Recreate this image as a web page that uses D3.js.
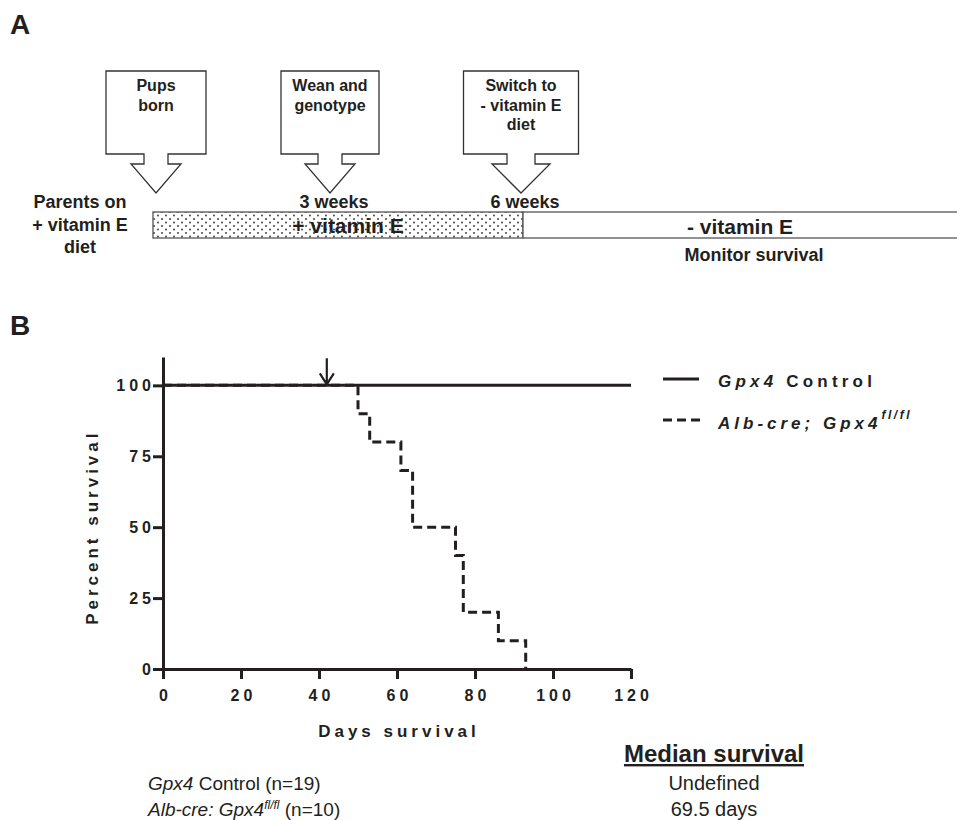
<!DOCTYPE html>
<html>
<head>
  <script src="https://d3js.org/d3.v7.min.js"></script>
  <style>
    body {
  margin: 0;
  background-color: #ffffff;
}

svg {
  font-family: 'Liberation Sans', Arial, sans-serif;
  display: block;
}

.bold { font-weight: bold; }
.ital { font-style: italic; }

.axis path,
.axis line {
  stroke: #231f20;
  stroke-width: 3px;
}

.axis text {
  font-size: 16px;
  font-weight: bold;
  letter-spacing: 4px;
  fill: #231f20;
}
  </style>
</head>
<body>

<script>
// Panel A: timeline of the experiment (weeks after birth).
const eventWeeks = [0, 3, 6];
const eventLines = [["Pups", "born"], ["Wean and", "genotype"], ["Switch to", "- vitamin E", "diet"]];
const weekLabels = ["", "3 weeks", "6 weeks"];
const parentLines = ["Parents on", "+ vitamin E", "diet"];

// Panel B: Kaplan-Meier curves.
const controlDays = [0, 120];
const controlSurvival = [100, 100];
const koDays = [0, 50, 53, 61, 64, 75, 77, 86, 93];
const koSurvival = [100, 90, 80, 70, 50, 40, 20, 10, 0];
const dietSwitchDay = 42;
const xTicks = [0, 20, 40, 60, 80, 100, 120];
const yTicks = [0, 25, 50, 75, 100];

// Median table under the chart.
const groupNames = ["Control", "Alb-cre: Gpx4"];
const groupN = [19, 10];
const medianText = ["Undefined", "69.5 days"];

const width = 957;
const height = 820;
const ink = "#231f20";

const svg = d3.select("body")
  .append("svg")
  .attr("width", width)
  .attr("height", height);

// dotted fill for the + vitamin E period
const defs = svg.append("defs");
const pat = defs.append("pattern")
  .attr("id", "dots")
  .attr("patternUnits", "userSpaceOnUse")
  .attr("width", 8)
  .attr("height", 7);
pat.append("rect").attr("width", 8).attr("height", 7).attr("fill", "#fff");
pat.append("circle").attr("cx", 2).attr("cy", 2).attr("r", 0.9).attr("fill", "#333");
pat.append("circle").attr("cx", 6).attr("cy", 5.5).attr("r", 0.9).attr("fill", "#333");

// ---------- Panel A ----------
svg.append("text").attr("class", "bold")
  .attr("x", 10).attr("y", 34)
  .attr("font-size", 28).attr("fill", ink)
  .text("A");

// weeks -> x (schematic, not to scale)
const wk = d3.scaleLinear().domain([0, 3, 6]).range([156, 330, 521]);

const boxW = [100, 98, 115];
const stemW = [12, 12, 14];
const wingW = [25, 25, 29];
const boxTop = 71, boxBottom = 154, stemBottom = 164, tipY = 193;

const events = svg.append("g")
  .selectAll("g")
  .data(eventWeeks)
  .join("g");

events.append("path")
  .attr("fill", "#fff")
  .attr("stroke", "#333")
  .attr("stroke-width", 1.3)
  .attr("d", (d, i) => {
    const cx = wk(d);
    return `M${cx - boxW[i] / 2},${boxTop}H${cx + boxW[i] / 2}V${boxBottom}` +
      `H${cx + stemW[i]}V${stemBottom}H${cx + wingW[i]}L${cx},${tipY}` +
      `L${cx - wingW[i]},${stemBottom}H${cx - stemW[i]}V${boxBottom}H${cx - boxW[i] / 2}Z`;
  });

events.each(function(d, i) {
  const g = d3.select(this);
  eventLines[i].forEach((line, j) => {
    g.append("text").attr("class", "bold")
      .attr("x", wk(d)).attr("y", 91 + j * 19.5)
      .attr("text-anchor", "middle")
      .attr("font-size", 16).attr("fill", ink)
      .text(line);
  });
  g.append("text").attr("class", "bold")
    .attr("x", wk(d) + 4).attr("y", 208)
    .attr("text-anchor", "middle")
    .attr("font-size", 18).attr("fill", ink)
    .text(weekLabels[i]);
});

parentLines.forEach((line, j) => {
  svg.append("text").attr("class", "bold")
    .attr("x", 80).attr("y", 208 + j * 22.5)
    .attr("text-anchor", "middle")
    .attr("font-size", 18).attr("fill", ink)
    .text(line);
});

// diet bar
const barTop = 212, barH = 26;
svg.append("rect")
  .attr("x", wk(0) - 3).attr("y", barTop)
  .attr("width", wk(6) + 2 - (wk(0) - 3)).attr("height", barH)
  .attr("fill", "url(#dots)")
  .attr("stroke", "#555").attr("stroke-width", 1.3);
svg.append("rect")
  .attr("x", wk(6) + 2).attr("y", barTop)
  .attr("width", width + 5 - (wk(6) + 2)).attr("height", barH)
  .attr("fill", "#fff")
  .attr("stroke", "#555").attr("stroke-width", 1.3);

svg.append("text").attr("class", "bold")
  .attr("x", 348).attr("y", 233)
  .attr("text-anchor", "middle")
  .attr("font-size", 21).attr("fill", ink)
  .text("+ vitamin E");
svg.append("text").attr("class", "bold")
  .attr("x", 740).attr("y", 234)
  .attr("text-anchor", "middle")
  .attr("font-size", 21).attr("fill", ink)
  .text("- vitamin E");
svg.append("text").attr("class", "bold")
  .attr("x", 754).attr("y", 261)
  .attr("text-anchor", "middle")
  .attr("font-size", 18).attr("fill", ink)
  .text("Monitor survival");

// ---------- Panel B ----------
svg.append("text").attr("class", "bold")
  .attr("x", 10).attr("y", 335)
  .attr("font-size", 28).attr("fill", ink)
  .text("B");

const x = d3.scaleLinear().domain([0, 120]).range([163, 631]);
const y = d3.scaleLinear().domain([0, 110]).range([669, 357]);

const xAxis = svg.append("g")
  .attr("class", "axis")
  .attr("transform", `translate(0,${y(0)})`)
  .call(d3.axisBottom(x).tickValues(xTicks).tickSize(10).tickSizeOuter(0).tickPadding(11));
xAxis.selectAll("text").attr("dx", "2px");

const yAxis = svg.append("g")
  .attr("class", "axis")
  .attr("transform", `translate(${x(0)},0)`)
  .call(d3.axisLeft(y).tickValues(yTicks).tickSize(10).tickSizeOuter(0).tickPadding(2));
yAxis.selectAll("text").attr("dx", "4px");

// knockout curve (dashed) under the control curve
const line = d3.line()
  .x(d => x(d[0]))
  .y(d => y(d[1]))
  .curve(d3.curveStepAfter);

svg.append("path")
  .datum(koDays.map((d, i) => [d, koSurvival[i]]))
  .attr("fill", "none")
  .attr("stroke", ink)
  .attr("stroke-width", 3)
  .attr("stroke-dasharray", "9,5")
  .attr("d", line);

svg.append("path")
  .datum(controlDays.map((d, i) => [d, controlSurvival[i]]))
  .attr("fill", "none")
  .attr("stroke", ink)
  .attr("stroke-width", 3)
  .attr("d", line);

// arrow marking the diet switch
const ax = x(dietSwitchDay);
svg.append("path")
  .attr("fill", "none")
  .attr("stroke", ink)
  .attr("stroke-width", 2.2)
  .attr("d", `M${ax},${y(100) - 27}V${y(100) - 1}M${ax - 7},${y(100) - 12}L${ax},${y(100) - 1}L${ax + 7},${y(100) - 12}`);

// axis titles
svg.append("text").attr("class", "bold")
  .attr("transform", `translate(98,${y(50)}) rotate(-90)`)
  .attr("text-anchor", "middle")
  .attr("font-size", 17).attr("letter-spacing", "4px")
  .attr("fill", ink)
  .text("Percent survival");

svg.append("text").attr("class", "bold")
  .attr("x", x(60) + 2).attr("y", 737)
  .attr("text-anchor", "middle")
  .attr("font-size", 17).attr("letter-spacing", "4px")
  .attr("fill", ink)
  .text("Days survival");

// legend
const legY = [379, 420];
svg.append("line")
  .attr("x1", 663).attr("x2", 699).attr("y1", legY[0]).attr("y2", legY[0])
  .attr("stroke", ink).attr("stroke-width", 3);
svg.append("line")
  .attr("x1", 663).attr("x2", 701).attr("y1", legY[1]).attr("y2", legY[1])
  .attr("stroke", ink).attr("stroke-width", 3)
  .attr("stroke-dasharray", "9,5");

const leg1 = svg.append("text").attr("class", "bold")
  .attr("x", 718).attr("y", legY[0] + 8)
  .attr("font-size", 17).attr("letter-spacing", "4.2px")
  .attr("fill", ink);
leg1.append("tspan").attr("class", "ital").text("Gpx4 ");
leg1.append("tspan").text("Control");

const leg2 = svg.append("text").attr("class", "bold ital")
  .attr("x", 718).attr("y", legY[1] + 9)
  .attr("font-size", 17).attr("letter-spacing", "4px")
  .attr("fill", ink);
leg2.append("tspan").text("Alb-cre; Gpx4");
leg2.append("tspan").attr("dy", -10).attr("font-size", 12).attr("letter-spacing", "2.5px").text("fl/fl");

// median survival table
svg.append("text").attr("class", "bold")
  .attr("x", 714).attr("y", 762)
  .attr("text-anchor", "middle")
  .attr("font-size", 24)
  .attr("text-decoration", "underline")
  .attr("fill", ink)
  .text("Median survival");

const rowY = [790, 816];
const t1 = svg.append("text").attr("x", 148).attr("y", rowY[0])
  .attr("font-size", 19).attr("fill", ink);
t1.append("tspan").attr("class", "ital").text("Gpx4");
t1.append("tspan").text(` ${groupNames[0]} (n=${groupN[0]})`);

const t2 = svg.append("text").attr("x", 148).attr("y", rowY[1])
  .attr("font-size", 19).attr("fill", ink);
t2.append("tspan").attr("class", "ital").text(groupNames[1]);
t2.append("tspan").attr("class", "ital").attr("font-size", 12).attr("dy", -7).text("fl/fl");
t2.append("tspan").attr("dy", 7).text(` (n=${groupN[1]})`);

medianText.forEach((m, i) => {
  svg.append("text")
    .attr("x", 714).attr("y", rowY[i])
    .attr("text-anchor", "middle")
    .attr("font-size", 20).attr("fill", ink)
    .text(m);
});
</script>
</body>
</html>
